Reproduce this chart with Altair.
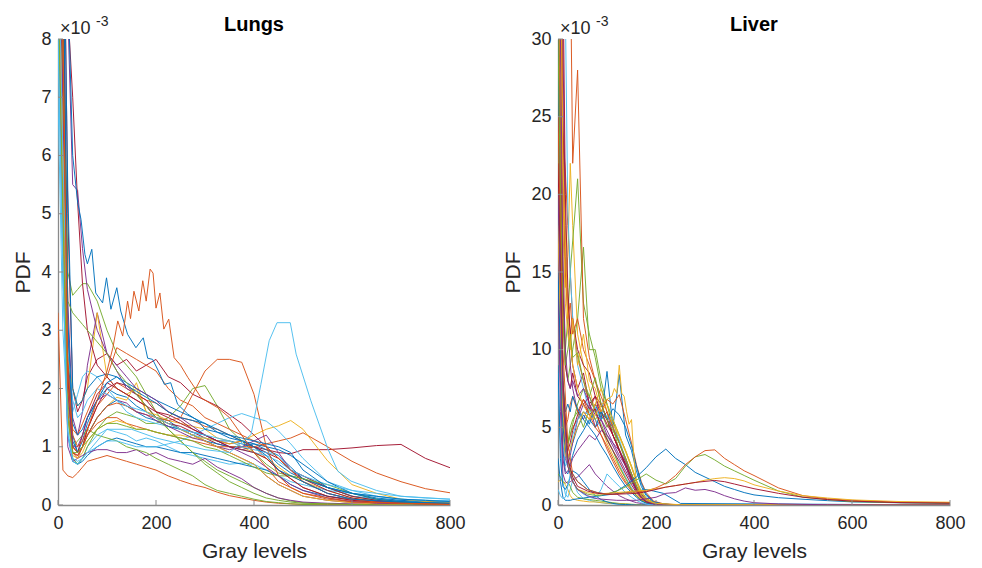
import altair as alt
import pandas as pd

BLUE = "#0072BD"
ORANGE = "#D95319"
YELLOW = "#EDB120"
PURPLE = "#7E2F8E"
GREEN = "#77AC30"
CYAN = "#4DBEEE"
DRED = "#A2142F"

FONT = "Liberation Sans"
AXIS_GRAY = "#8a8a8a"
W, H = 392, 466

X_TICKS = [0, 200, 400, 600, 800]
LUNG_Y_TICKS = [0, 1, 2, 3, 4, 5, 6, 7, 8]
LIVER_Y_TICKS = [0, 5, 10, 15, 20, 25, 30]

# ---------------- Lungs (values in units of 1e-3) ----------------
LUNG_X = [0, 10, 20, 30, 40, 50, 60, 80, 100, 120, 140, 160, 180, 200,
          225, 250, 275, 300, 325, 350, 375, 400, 425, 450, 475, 500,
          550, 600, 650, 700, 750, 800]

LUNG_GRID = [
    [12, 9, 3.0, 1.2, 0.9, 1.1, 1.4, 1.8, 2.0, 1.9, 1.85, 1.7, 1.6, 1.5, 1.45, 1.3, 1.25, 1.2, 1.1, 1.1, 1.05, 1.0, 0.9, 0.7, 0.55, 0.45, 0.3, 0.15, 0.1, 0.07, 0.05, 0.04],
    [15, 10, 2.2, 0.9, 0.8, 1.0, 1.3, 1.7, 1.9, 2.1, 2.0, 1.9, 1.8, 1.75, 1.6, 1.5, 1.45, 1.35, 1.3, 1.2, 1.1, 1.0, 0.8, 0.6, 0.45, 0.3, 0.15, 0.08, 0.05, 0.03, 0.02, 0.02],
    [11, 7, 2.0, 1.0, 0.9, 1.0, 1.2, 1.5, 1.7, 1.85, 1.8, 2.1, 1.6, 1.55, 1.45, 1.4, 1.35, 1.3, 1.15, 1.1, 1.0, 0.9, 0.8, 0.65, 0.5, 0.4, 0.25, 0.12, 0.07, 0.04, 0.03, 0.02],
    [14, 8, 3.5, 1.5, 1.2, 1.6, 2.4, 3.3, 2.6, 2.3, 2.0, 1.9, 1.7, 1.5, 1.4, 1.3, 1.2, 1.1, 1.0, 0.9, 0.8, 0.7, 0.5, 0.35, 0.25, 0.15, 0.08, 0.04, 0.02, 0.01, 0.01, 0.01],
    [13, 9, 4.0, 3.6, 3.7, 3.8, 3.8, 3.5, 3.0, 2.6, 2.4, 2.2, 1.9, 1.6, 1.3, 1.1, 0.9, 0.75, 0.6, 0.5, 0.4, 0.3, 0.2, 0.12, 0.07, 0.04, 0.02, 0.01, 0.01, 0.01, 0.0, 0.0],
    [9, 5, 1.5, 0.8, 0.7, 0.8, 1.0, 1.2, 1.3, 1.25, 1.2, 1.1, 1.15, 1.1, 1.0, 0.9, 0.85, 0.8, 0.75, 0.7, 0.72, 0.7, 0.6, 0.5, 0.4, 0.35, 0.25, 0.2, 0.15, 0.1, 0.08, 0.07],
    [16, 10, 2.5, 1.0, 0.9, 1.2, 1.5, 1.9, 2.1, 2.0, 1.9, 1.8, 1.7, 1.5, 1.4, 1.35, 1.25, 1.15, 1.05, 1.0, 0.95, 1.0, 0.95, 0.9, 0.88, 0.95, 0.95, 0.98, 1.02, 1.04, 0.8, 0.64],
    [10, 6, 1.8, 0.8, 0.7, 0.8, 1.0, 1.3, 1.5, 1.6, 1.55, 1.5, 1.4, 1.4, 1.5, 1.7, 2.0, 2.05, 1.7, 1.3, 1.1, 0.9, 0.7, 0.55, 0.5, 0.45, 0.3, 0.15, 0.08, 0.05, 0.03, 0.02],
    [18, 12, 5, 2.0, 1.6, 1.8, 2.2, 2.5, 2.6, 2.4, 2.5, 2.3, 2.4, 2.5, 2.2, 2.1, 1.9, 1.8, 1.7, 1.55, 1.4, 1.2, 1.0, 0.8, 0.6, 0.45, 0.25, 0.12, 0.06, 0.04, 0.03, 0.02],
    [9, 4, 1.2, 0.75, 0.7, 0.75, 0.85, 1.0, 1.1, 1.15, 1.1, 1.05, 1.0, 1.0, 0.95, 0.9, 0.9, 0.85, 0.8, 0.75, 0.7, 0.65, 0.6, 0.5, 0.35, 0.25, 0.15, 0.1, 0.06, 0.04, 0.03, 0.02],
    [3.3, 0.6, 0.5, 0.47, 0.55, 0.65, 0.75, 0.8, 0.85, 0.8, 0.75, 0.7, 0.65, 0.6, 0.5, 0.42, 0.35, 0.3, 0.22, 0.16, 0.12, 0.08, 0.05, 0.03, 0.02, 0.01, 0.01, 0.0, 0.0, 0.0, 0.0, 0.0],
    [10, 5, 1.0, 0.75, 0.8, 0.85, 0.9, 0.95, 0.95, 0.9, 0.9, 0.95, 0.85, 0.9, 0.8, 0.75, 0.7, 0.8, 0.65, 0.55, 0.45, 0.3, 0.2, 0.12, 0.08, 0.05, 0.03, 0.02, 0.01, 0.01, 0.0, 0.0],
    [12, 6, 1.5, 1.0, 1.1, 1.2, 1.3, 1.2, 1.15, 1.1, 1.0, 0.95, 0.9, 0.8, 0.7, 0.6, 0.5, 0.35, 0.25, 0.2, 0.15, 0.1, 0.06, 0.04, 0.02, 0.01, 0.0, 0.0, 0.0, 0.0, 0.0, 0.0],
    [7, 3, 1.4, 1.6, 1.9, 2.2, 2.3, 2.2, 2.0, 1.8, 1.6, 1.5, 1.45, 1.4, 1.35, 1.3, 1.2, 1.15, 1.1, 1.0, 0.95, 0.9, 0.85, 0.75, 0.6, 0.5, 0.3, 0.15, 0.1, 0.07, 0.05, 0.04],
    [14, 9, 2.2, 0.9, 0.85, 1.0, 1.3, 1.7, 2.0, 2.1, 2.05, 1.9, 1.8, 1.6, 1.55, 1.45, 1.3, 1.2, 1.1, 1.05, 1.1, 1.0, 0.9, 0.8, 0.6, 0.5, 0.3, 0.15, 0.08, 0.05, 0.03, 0.02],
    [13, 7, 2.8, 1.1, 0.9, 1.0, 1.2, 1.5, 1.7, 1.8, 1.7, 1.6, 1.5, 1.45, 1.35, 1.3, 1.2, 1.1, 1.05, 1.0, 1.0, 1.05, 0.95, 0.85, 0.65, 0.45, 0.3, 0.2, 0.12, 0.08, 0.06, 0.05],
    [11, 7, 2.0, 1.0, 0.9, 1.0, 1.2, 1.5, 1.7, 1.75, 1.7, 1.6, 1.55, 1.5, 1.45, 1.5, 1.9, 2.3, 2.5, 2.5, 2.45, 1.9, 1.0, 0.5, 0.3, 0.2, 0.1, 0.06, 0.04, 0.03, 0.02, 0.01],
    [10, 6, 1.6, 0.9, 0.85, 1.0, 1.2, 1.4, 1.5, 1.5, 1.4, 1.35, 1.3, 1.25, 1.2, 1.15, 1.1, 1.05, 1.0, 1.0, 1.0, 1.0, 1.05, 1.1, 1.15, 1.24, 1.0, 0.75, 0.55, 0.4, 0.28, 0.21],
    [9, 5, 1.5, 0.85, 0.8, 0.9, 1.1, 1.3, 1.4, 1.45, 1.4, 1.3, 1.3, 1.25, 1.2, 1.2, 1.15, 1.15, 1.1, 1.05, 1.1, 1.2, 1.3, 1.36, 1.45, 1.3, 0.76, 0.35, 0.2, 0.1, 0.06, 0.04],
    [8, 4, 1.2, 0.8, 0.75, 0.8, 0.9, 1.0, 1.1, 1.1, 1.05, 1.0, 1.0, 1.0, 1.05, 1.1, 1.2, 1.3, 1.4, 1.5, 1.57, 1.5, 1.44, 1.27, 1.05, 0.8, 0.4, 0.25, 0.15, 0.1, 0.08, 0.07],
    [12, 7, 2.0, 1.0, 1.0, 1.2, 1.5, 1.8, 1.9, 1.8, 1.75, 1.6, 1.55, 1.45, 1.35, 1.25, 1.15, 1.1, 1.0, 0.95, 1.0, 1.1, 1.2, 0.9, 0.6, 0.4, 0.2, 0.1, 0.06, 0.03, 0.02, 0.01],
    [9, 5, 1.5, 0.9, 0.9, 1.0, 1.1, 1.3, 1.4, 1.4, 1.35, 1.3, 1.3, 1.25, 1.2, 1.15, 1.1, 1.0, 0.95, 0.85, 0.75, 0.65, 0.55, 0.5, 0.5, 0.45, 0.35, 0.2, 0.1, 0.05, 0.03, 0.02],
    [10, 6, 2.5, 2.0, 1.7, 1.8, 2.0, 3.3, 2.2, 2.0, 1.9, 2.0, 1.6, 1.5, 1.4, 1.3, 1.2, 1.1, 1.0, 0.9, 0.8, 0.7, 0.5, 0.35, 0.25, 0.15, 0.08, 0.04, 0.02, 0.01, 0.01, 0.01],
    [15, 11, 5.4, 2.0, 1.7, 1.8, 2.0, 2.2, 2.25, 2.2, 2.1, 2.0, 1.9, 1.8, 1.7, 1.6, 1.5, 1.4, 1.3, 1.2, 1.1, 1.05, 1.0, 0.95, 0.85, 0.7, 0.4, 0.2, 0.1, 0.06, 0.04, 0.03],
    [20, 16, 8.5, 5.5, 5.4, 4.4, 3.7, 3.0, 2.6, 2.4, 2.2, 2.0, 1.9, 1.8, 1.6, 1.5, 1.35, 1.2, 1.1, 1.0, 0.9, 0.8, 0.65, 0.5, 0.35, 0.25, 0.12, 0.06, 0.03, 0.02, 0.01, 0.01],
    [20, 18, 8.5, 7.0, 5.2, 3.8, 3.0, 2.4, 2.2, 2.0, 1.9, 1.8, 1.7, 1.6, 1.5, 1.4, 1.3, 1.2, 1.1, 1.0, 0.95, 0.9, 0.8, 0.6, 0.45, 0.3, 0.15, 0.08, 0.05, 0.03, 0.02, 0.01],
    [12, 8, 3.5, 3.3, 3.2, 3.1, 3.0, 2.8, 2.6, 2.3, 2.1, 1.9, 1.7, 1.5, 1.3, 1.1, 0.9, 0.7, 0.55, 0.4, 0.3, 0.2, 0.12, 0.08, 0.05, 0.03, 0.02, 0.01, 0.0, 0.0, 0.0, 0.0],
    [10, 6, 2.7, 1.8, 1.5, 1.6, 1.8, 2.0, 1.9, 1.8, 1.7, 1.65, 1.6, 1.5, 1.4, 1.3, 1.25, 1.2, 1.15, 1.1, 1.0, 0.95, 0.9, 0.85, 0.6, 0.5, 0.35, 0.25, 0.2, 0.15, 0.12, 0.1],
    [12, 8, 2.0, 1.3, 1.2, 1.4, 1.6, 2.0, 2.2, 2.7, 2.6, 2.5, 2.4, 2.3, 2.0, 1.8, 1.7, 1.5, 1.4, 1.3, 1.2, 1.1, 1.0, 0.8, 0.6, 0.4, 0.2, 0.1, 0.05, 0.03, 0.02, 0.01],
    [14, 10, 3.2, 1.4, 1.2, 1.3, 1.5, 1.8, 2.1, 2.2, 2.05, 1.95, 1.85, 1.75, 1.6, 1.5, 1.45, 1.4, 1.25, 1.2, 1.15, 1.1, 1.05, 1.0, 0.9, 0.6, 0.3, 0.2, 0.15, 0.1, 0.08, 0.06],
]
LUNG_GRID_COLORS = [BLUE, ORANGE, YELLOW, PURPLE, GREEN, CYAN, DRED, GREEN, DRED, BLUE,
                    ORANGE, PURPLE, GREEN, CYAN, DRED, BLUE, ORANGE, ORANGE, YELLOW, CYAN,
                    PURPLE, GREEN, YELLOW, BLUE, PURPLE, DRED, GREEN, CYAN, ORANGE, BLUE]

LUNG_SPECIAL_X = [
    [0, 10, 20, 30, 40, 47, 55, 60, 69, 77, 91, 99, 108, 120, 128, 142, 159, 174, 183, 193,
     205, 217, 230, 244, 265, 285, 300, 325, 350, 375, 400, 425, 450, 500, 550, 600, 700, 800],
    [0, 10, 20, 30, 40, 50, 60, 80, 100, 112, 122, 132, 142, 148, 155, 165, 173, 180, 188, 194,
     200, 208, 216, 226, 237, 250, 265, 280, 292, 310, 326, 350, 375, 400, 450, 500, 600, 800],
    [0, 10, 20, 30, 40, 60, 80, 100, 150, 200, 250, 300, 350, 394, 414, 431, 447, 474, 486, 516,
     550, 571, 598, 650, 700, 800],
]
LUNG_SPECIAL_Y = [
    [20, 14, 9, 6, 5.2, 4.9, 4.3, 4.14, 4.39, 3.64, 3.47, 3.9, 3.36, 3.73, 3.33, 2.93, 2.70, 2.87, 2.52, 2.5,
     2.3, 2.07, 2.1, 1.73, 1.56, 1.45, 1.3, 1.25, 1.15, 1.1, 1.0, 0.85, 0.6, 0.4, 0.2, 0.1, 0.05, 0.03],
    [12, 8, 2.5, 1.2, 1.0, 1.1, 1.3, 1.8, 2.3, 2.7, 3.16, 2.9, 3.5, 3.2, 3.67, 3.33, 3.85, 3.5, 4.05, 3.98,
     3.38, 3.64, 3.02, 3.19, 2.53, 2.4, 2.19, 2.0, 1.84, 1.75, 1.67, 1.5, 1.2, 0.9, 0.4, 0.2, 0.05, 0.01],
    [8, 4, 1.3, 0.75, 0.7, 0.9, 1.1, 1.3, 1.3, 1.15, 1.05, 0.95, 0.9, 1.21, 2.07, 2.82, 3.13, 3.13, 2.59, 1.79,
     0.98, 0.58, 0.41, 0.25, 0.15, 0.1],
]
LUNG_SPECIAL_COLORS = [BLUE, ORANGE, CYAN]

# ---------------- Liver (values in units of 1e-3) ----------------
LIVER_X = [0, 5, 10, 15, 20, 25, 30, 40, 52, 64, 76, 88, 100, 112,
           125, 138, 150, 160, 170, 180, 195, 215, 250, 800]

LIVER_GRID = [
    [45, 38, 24, 21.5, 18, 15, 12, 9.5, 8, 6.5, 5.5, 4.5, 3.6, 2.8, 2.0, 1.4, 0.9, 0.6, 0.35, 0.2, 0.08, 0.03, 0, 0],
    [40, 30, 20, 14, 16, 22, 18, 11, 9, 7.5, 6, 5, 4, 3.2, 2.4, 1.7, 1.1, 0.7, 0.4, 0.25, 0.1, 0.04, 0, 0],
    [35, 25, 14, 10, 12, 15, 17, 21, 13, 11, 9.5, 7.5, 6.5, 5.0, 3.5, 2.5, 1.6, 1.0, 0.6, 0.3, 0.1, 0.04, 0, 0],
    [30, 22, 12, 9, 8, 9, 10, 12, 16.6, 10, 10, 8, 6.5, 5.5, 4.0, 2.8, 1.8, 1.1, 0.6, 0.3, 0.1, 0.04, 0, 0],
    [50, 45, 38, 35, 33, 36, 22, 28, 12, 9.5, 8, 6.5, 5.5, 4.5, 3.5, 2.5, 1.6, 1.0, 0.6, 0.3, 0.1, 0.04, 0, 0],
    [60, 45, 30, 18, 12, 9, 7.5, 6, 5.5, 6.5, 5.0, 5.5, 4.5, 3.8, 3.0, 2.2, 1.5, 0.9, 0.5, 0.25, 0.1, 0.03, 0, 0],
    [60, 50, 35, 20, 14, 11, 9, 7.5, 8.5, 6.5, 7.0, 5.5, 6.0, 4.5, 3.5, 2.6, 1.8, 1.2, 0.7, 0.4, 0.15, 0.05, 0, 0],
    [45, 40, 35, 32, 19, 15, 12, 9, 7.5, 6.0, 5.5, 5.0, 4.2, 3.5, 2.6, 1.8, 1.1, 0.6, 0.3, 0.15, 0.05, 0.02, 0, 0],
    [30, 18, 6, 3.5, 3.0, 3.5, 4.0, 5.0, 5.8, 5.2, 6.5, 5.5, 8.6, 5.0, 8.4, 4.5, 3.5, 2.2, 1.2, 0.6, 0.2, 0.05, 0, 0],
    [35, 20, 8, 5, 4.0, 4.5, 5.0, 5.5, 6.0, 5.5, 6.5, 6.0, 6.8, 6.5, 7.1, 5.5, 4.0, 2.6, 1.5, 0.8, 0.25, 0.08, 0, 0],
    [25, 12, 5, 3.0, 2.5, 3.2, 4.0, 5.5, 6.5, 7.0, 6.0, 6.5, 5.5, 5.0, 4.0, 3.0, 2.0, 1.2, 0.7, 0.35, 0.1, 0.03, 0, 0],
    [28, 15, 7, 4.5, 4.0, 5.0, 5.5, 6.0, 5.0, 6.2, 5.5, 6.0, 5.0, 5.5, 4.5, 3.5, 2.5, 1.6, 0.9, 0.45, 0.15, 0.05, 0, 0],
    [22, 10, 4, 2.5, 2.8, 3.5, 4.5, 5.5, 6.0, 5.8, 6.3, 5.5, 5.8, 5.0, 4.2, 3.0, 2.0, 1.3, 0.7, 0.35, 0.1, 0.03, 0, 0],
    [26, 14, 6, 4, 3.5, 4.0, 4.8, 5.8, 6.8, 6.2, 7.0, 6.0, 5.2, 4.5, 3.6, 2.6, 1.7, 1.0, 0.5, 0.25, 0.08, 0.02, 0, 0],
    [20, 9, 3.5, 2.2, 2.0, 2.6, 3.2, 4.2, 4.8, 5.5, 5.0, 6.0, 5.5, 6.2, 5.8, 5.0, 3.8, 2.5, 1.4, 0.7, 0.2, 0.06, 0, 0],
    [32, 18, 7, 5, 5.5, 6.5, 7.0, 6.0, 6.8, 5.8, 5.0, 4.5, 3.8, 3.0, 2.2, 1.5, 1.0, 0.6, 0.3, 0.15, 0.05, 0.02, 0, 0],
    [18, 8, 3.0, 2.0, 2.2, 2.5, 3.0, 3.5, 4.0, 4.5, 4.2, 4.8, 4.5, 4.0, 3.5, 2.8, 2.0, 1.2, 0.7, 0.35, 0.1, 0.03, 0, 0],
    [24, 12, 5, 3.5, 3.8, 4.5, 5.2, 6.5, 7.5, 7.0, 6.0, 5.2, 4.3, 3.5, 2.5, 1.7, 1.0, 0.6, 0.3, 0.15, 0.05, 0.02, 0, 0],
    [30, 16, 8, 6, 6.5, 6.0, 7.0, 6.2, 5.5, 5.0, 4.5, 3.8, 3.2, 2.5, 1.8, 1.2, 0.8, 0.5, 0.25, 0.12, 0.04, 0.01, 0, 0],
    [40, 28, 14, 9, 8, 7.5, 8.5, 7.0, 6.5, 5.8, 6.2, 5.0, 4.2, 3.5, 2.8, 2.0, 1.3, 0.8, 0.45, 0.2, 0.06, 0.02, 0, 0],
    [22, 11, 5, 3.2, 3.0, 3.6, 4.2, 5.0, 6.0, 5.5, 6.5, 7.5, 6.0, 5.2, 4.4, 3.4, 2.4, 1.5, 0.8, 0.4, 0.12, 0.04, 0, 0],
    [8.5, 4, 1.5, 0.7, 0.5, 1.0, 1.6, 0.8, 0.4, 0.3, 0.2, 0.15, 0.1, 0.08, 0.05, 0.03, 0.02, 0.01, 0, 0, 0, 0, 0, 0],
    [2.0, 1.8, 1.5, 1.4, 1.5, 1.2, 0.8, 0.5, 0.4, 0.35, 0.3, 0.25, 0.2, 0.15, 0.1, 0.08, 0.05, 0.03, 0.02, 0.01, 0, 0, 0, 0],
    [1.5, 1.6, 1.5, 1.3, 1.0, 0.6, 0.4, 0.3, 0.25, 0.2, 0.2, 0.15, 0.12, 0.1, 0.08, 0.05, 0.03, 0.02, 0.01, 0, 0, 0, 0, 0],
    [9, 3, 1.2, 1.0, 1.3, 1.8, 2.2, 2.0, 1.5, 1.0, 0.6, 0.35, 0.2, 0.1, 0.05, 0.03, 0.02, 0, 0, 0, 0, 0, 0, 0],
    [3, 1.5, 0.5, 0.3, 0.3, 0.3, 0.35, 0.4, 0.45, 0.5, 0.55, 0.6, 0.65, 0.7, 0.75, 0.8, 0.85, 0.9, 0.95, 1.0, 0.9, 0.75, 0.1, 0],
    [15, 6, 2, 1.5, 1.4, 1.5, 1.6, 1.8, 2.2, 2.6, 2.0, 1.6, 1.2, 0.9, 0.6, 0.4, 0.25, 0.15, 0.1, 0.05, 0.02, 0, 0, 0],
    [1.0, 0.6, 0.4, 0.5, 1.2, 2.0, 1.5, 1.0, 0.7, 0.5, 0.4, 1.0, 2.0, 1.6, 1.2, 0.8, 0.5, 0.3, 0.15, 0.05, 0, 0, 0, 0],
    [50, 40, 25, 16, 13, 11, 12, 10, 9, 8.5, 7, 6.5, 5.5, 4.5, 3.5, 2.5, 1.6, 1.0, 0.5, 0.25, 0.08, 0.02, 0, 0],
    [45, 35, 22, 15, 12, 13, 11, 12, 10, 9, 8, 7, 6, 5, 4, 3, 2, 1.2, 0.6, 0.3, 0.1, 0.03, 0, 0],
    [38, 28, 18, 13, 11, 10, 12, 9, 11, 8, 7.5, 6, 6.5, 5.5, 4.5, 3.5, 2.5, 1.5, 0.8, 0.4, 0.12, 0.04, 0, 0],
    [30, 20, 12, 9, 10, 11, 9.5, 9.8, 8, 7, 8.2, 6.5, 5.5, 4.8, 4.0, 3.0, 2.0, 1.2, 0.6, 0.3, 0.1, 0.03, 0, 0],
    [40, 30, 16, 10, 8, 7.5, 8, 7, 7.5, 6.5, 5.8, 5.5, 4.8, 4.0, 3.2, 2.5, 1.6, 0.9, 0.5, 0.25, 0.08, 0.02, 0, 0],
]
LIVER_GRID_COLORS = [ORANGE, YELLOW, GREEN, GREEN, ORANGE, PURPLE, DRED, CYAN,
                     BLUE, ORANGE, PURPLE, GREEN, CYAN, DRED, BLUE, ORANGE, PURPLE, GREEN,
                     BLUE, DRED, YELLOW, CYAN, GREEN, YELLOW, BLUE, BLUE, PURPLE, CYAN,
                     DRED, ORANGE, YELLOW, GREEN, PURPLE]

LIVER_SPIKE_X = [0, 5, 10, 20, 30, 40, 50, 60, 70, 80, 90, 100, 110, 115, 120, 125, 130, 135, 140, 145,
                 150, 155, 160, 170, 180, 200, 250, 800]
LIVER_SPIKE_Y = [55, 38, 22, 12, 9, 7.5, 6.5, 6.0, 5.5, 6.0, 6.5, 6.8, 7.0, 7.5, 7.2, 9.0, 7.2, 7.0, 6.0, 5.2,
                 5.5, 3.0, 1.5, 0.6, 0.3, 0.1, 0.02, 0]

LIVER_X2 = [0, 10, 20, 30, 40, 60, 80, 100, 120, 140, 160, 180, 200, 220, 240, 260, 280, 300, 320, 340,
            360, 380, 400, 450, 500, 550, 600, 700, 800]
LIVER_LATE = [
    [15, 5, 2.5, 2.0, 1.5, 1.0, 0.8, 0.7, 0.9, 1.3, 1.8, 2.4, 3.1, 3.6, 3.0, 2.6, 2.1, 1.8, 1.5, 1.2,
     1.0, 0.8, 0.65, 0.47, 0.37, 0.28, 0.2, 0.14, 0.1],
    [20, 8, 3, 1.5, 1.0, 0.7, 0.6, 0.7, 0.9, 1.2, 1.6, 2.0, 1.6, 1.35, 1.7, 2.5, 3.1, 3.25, 2.9, 2.5,
     2.2, 1.9, 1.6, 0.9, 0.5, 0.35, 0.22, 0.15, 0.12],
    [25, 10, 4, 2, 1.5, 1.0, 0.8, 0.7, 0.7, 0.8, 0.85, 0.9, 1.1, 1.4, 1.9, 2.6, 3.1, 3.5, 3.55, 3.0,
     2.6, 2.2, 1.9, 1.1, 0.6, 0.4, 0.3, 0.18, 0.15],
    [18, 6, 2.5, 1.5, 1.0, 0.8, 0.7, 0.75, 0.8, 0.85, 0.9, 0.95, 1.05, 1.15, 1.25, 1.35, 1.45, 1.6, 1.7, 1.76,
     1.7, 1.55, 1.3, 0.9, 0.6, 0.45, 0.33, 0.22, 0.18],
    [22, 8, 3, 1.8, 1.2, 0.9, 0.75, 0.7, 0.7, 0.72, 0.75, 0.85, 1.0, 1.15, 1.25, 1.35, 1.45, 1.52, 1.58, 1.5,
     1.35, 1.2, 1.05, 0.75, 0.5, 0.35, 0.25, 0.15, 0.12],
    [20, 7, 2.5, 1.5, 1.0, 0.6, 0.4, 0.35, 0.3, 0.3, 0.3, 0.4, 0.5, 0.75, 0.8, 1.1, 0.95, 1.0, 0.85, 0.6,
     0.4, 0.25, 0.15, 0.07, 0.04, 0.02, 0.01, 0.0, 0.0],
]
LIVER_LATE_COLORS = [BLUE, GREEN, ORANGE, YELLOW, DRED, PURPLE]


def make_frame(xs_list, ys_list, prefix):
    rows, ids = [], []
    for i, (xs, ys) in enumerate(zip(xs_list, ys_list)):
        sid = f"{prefix}{i:02d}"
        ids.append(sid)
        for j, (x, y) in enumerate(zip(xs, ys)):
            rows.append({"sid": sid, "x": x, "y": y, "o": j})
    return rows, ids


def build_lungs():
    xs = [LUNG_X] * len(LUNG_GRID) + LUNG_SPECIAL_X
    ys = LUNG_GRID + LUNG_SPECIAL_Y
    rows, ids = make_frame(xs, ys, "lu")
    return pd.DataFrame(rows), ids, LUNG_GRID_COLORS + LUNG_SPECIAL_COLORS


def build_liver():
    xs = [LIVER_X] * len(LIVER_GRID) + [LIVER_SPIKE_X] + [LIVER_X2] * len(LIVER_LATE)
    ys = LIVER_GRID + [LIVER_SPIKE_Y] + LIVER_LATE
    rows, ids = make_frame(xs, ys, "li")
    return pd.DataFrame(rows), ids, LIVER_GRID_COLORS + [YELLOW] + LIVER_LATE_COLORS


def panel(df, ids, colors, ymax, yticks, title):
    xscale = alt.Scale(domain=[0, 800], nice=False, zero=False)
    yscale = alt.Scale(domain=[0, ymax], nice=False, zero=False)
    xaxis = alt.Axis(values=X_TICKS, title="Gray levels", format="d", labelFlush=False)
    yaxis = alt.Axis(values=yticks, title="PDF", format="d", labelFlush=False)
    lines = alt.Chart(df).mark_line(strokeWidth=1, clip=True, opacity=0.95).encode(
        x=alt.X("x:Q", scale=xscale, axis=xaxis),
        y=alt.Y("y:Q", scale=yscale, axis=yaxis),
        color=alt.Color("sid:N", scale=alt.Scale(domain=ids, range=colors), legend=None),
        order=alt.Order("o:Q"),
    )
    xt = alt.Chart(pd.DataFrame({"x": X_TICKS})).mark_rule(color=AXIS_GRAY, strokeWidth=1).encode(
        x=alt.X("x:Q", scale=xscale, axis=xaxis),
        y=alt.value(H), y2=alt.value(H - 5),
    )
    yt = alt.Chart(pd.DataFrame({"y": yticks})).mark_rule(color=AXIS_GRAY, strokeWidth=1).encode(
        y=alt.Y("y:Q", scale=yscale, axis=yaxis),
        x=alt.value(0), x2=alt.value(5),
    )
    ttl = alt.Chart(pd.DataFrame({"t": [title]})).mark_text(
        font=FONT, fontSize=20, fontWeight="bold", color="#000000",
        align="center", baseline="alphabetic").encode(
        text="t:N", x=alt.value(W / 2), y=alt.value(-8))
    mul = alt.Chart(pd.DataFrame({"t": ["×10"]})).mark_text(
        font=FONT, fontSize=18, color="#262626", align="left", baseline="alphabetic").encode(
        text="t:N", x=alt.value(2), y=alt.value(-5))
    exp = alt.Chart(pd.DataFrame({"t": ["-3"]})).mark_text(
        font=FONT, fontSize=14, color="#262626", align="left", baseline="alphabetic").encode(
        text="t:N", x=alt.value(38), y=alt.value(-13))
    return alt.layer(lines, xt, yt, ttl, mul, exp).properties(width=W, height=H)


lung_df, lung_ids, lung_colors = build_lungs()
liver_df, liver_ids, liver_colors = build_liver()

left = panel(lung_df, lung_ids, lung_colors, 8, LUNG_Y_TICKS, "Lungs")
right = panel(liver_df, liver_ids, liver_colors, 30, LIVER_Y_TICKS, "Liver")

chart = alt.hconcat(left, right, spacing=36).resolve_scale(color="independent").properties(
    padding={"left": 4, "top": 7, "right": 5, "bottom": 5}
).configure_view(stroke=None).configure_axis(
    grid=False, ticks=False, tickSize=0,
    domainColor=AXIS_GRAY, domainWidth=1.3,
    labelFont=FONT, labelFontSize=18, labelColor="#262626",
    titleFont=FONT, titleFontSize=21, titleColor="#262626", titleFontWeight="normal",
).configure_axisX(labelPadding=9, titlePadding=8).configure_axisY(labelPadding=7, titlePadding=7)

chart.save("out.html", embed_options={"renderer": "svg", "actions": False})
